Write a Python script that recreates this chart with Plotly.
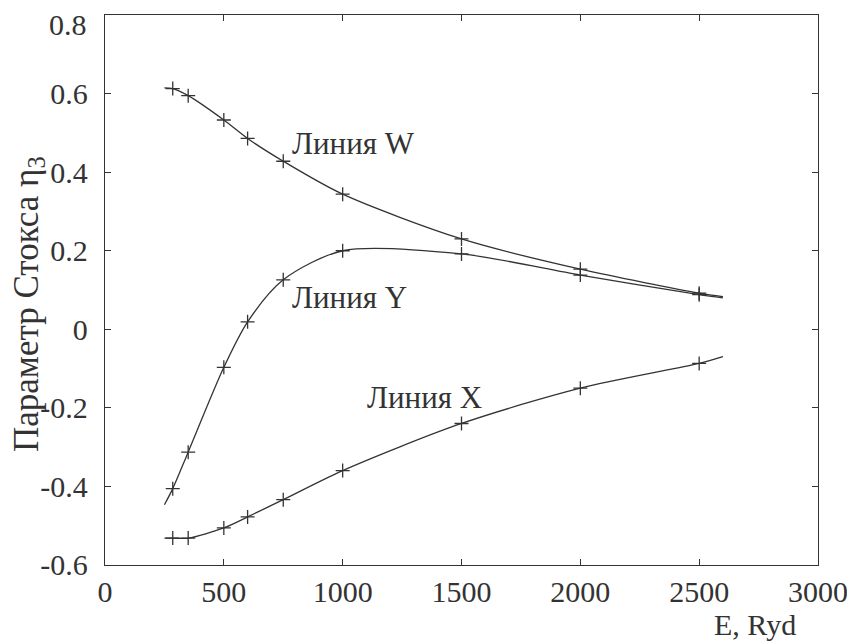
import plotly.graph_objects as go

# ---- data ----
# Curve end points (line only) and marker points
W_line_x = [250, 285, 350, 500, 600, 750, 1000, 1500, 2000, 2500, 2600]
W_line_y = [0.615, 0.613, 0.595, 0.533, 0.486, 0.428, 0.344, 0.230, 0.153, 0.092, 0.083]
Y_line_x = [250, 285, 350, 500, 600, 750, 1000, 1500, 2000, 2500, 2600]
Y_line_y = [-0.447, -0.406, -0.313, -0.097, 0.019, 0.126, 0.200, 0.192, 0.138, 0.088, 0.080]
X_line_x = [250, 285, 350, 500, 600, 750, 1000, 1500, 2000, 2500, 2600]
X_line_y = [-0.532, -0.532, -0.532, -0.506, -0.478, -0.434, -0.360, -0.240, -0.150, -0.087, -0.070]

series_names = ["Линия W", "Линия Y", "Линия X"]
x_ticks = [0, 500, 1000, 1500, 2000, 2500, 3000]
y_ticks = [-0.6, -0.4, -0.2, 0, 0.2, 0.4, 0.6, 0.8]
y_tick_text = ["-0.6", "-0.4", "-0.2", "0", "0.2", "0.4", "0.6", "0.8"]

INK = "#333333"
FONT = "Times New Roman, Liberation Serif, serif"

fig = go.Figure()
for xs, ys, name in [(W_line_x, W_line_y, series_names[0]),
                     (Y_line_x, Y_line_y, series_names[1]),
                     (X_line_x, X_line_y, series_names[2])]:
    fig.add_trace(go.Scatter(x=xs, y=ys, mode="lines", name=name,
                             line=dict(color=INK, width=1.3, shape="spline", smoothing=0.8),
                             showlegend=False, hoverinfo="skip"))
    fig.add_trace(go.Scatter(x=xs[1:-1], y=ys[1:-1], mode="markers", name=name,
                             marker=dict(symbol="cross-thin", size=10,
                                         line=dict(color=INK, width=1.3)),
                             showlegend=False))

axis_common = dict(showline=True, linecolor=INK, linewidth=1.4, mirror="allticks",
                   ticks="inside", ticklen=6, tickcolor=INK, tickwidth=1.2,
                   showgrid=False, zeroline=False, automargin=False,
                   tickfont=dict(family=FONT, size=30, color=INK))

# the top label (0.8) sits slightly below its tick in the reference, so it is drawn as an annotation
y_tick_shown = y_tick_text[:-1] + [""]

fig.update_xaxes(range=[0, 3000], tickvals=x_ticks, ticklabelstandoff=0, **axis_common)
fig.update_yaxes(range=[-0.6005, 0.8005], tickvals=y_ticks, ticktext=y_tick_shown,
                 ticklabelstandoff=10, **axis_common)

ann_font = dict(family=FONT, size=31, color=INK)
fig.update_layout(
    width=847, height=633,
    margin=dict(l=97, r=37, t=7, b=76),
    paper_bgcolor="white", plot_bgcolor="white",
    annotations=[
        dict(x=-0.022, y=0.983, xref="paper", yref="paper", text=y_tick_text[-1],
             showarrow=False, xanchor="right", yanchor="middle",
             font=dict(family=FONT, size=30, color=INK)),
        dict(x=778, y=0.474, xref="x", yref="y", text=series_names[0], showarrow=False,
             xanchor="left", yanchor="middle", font=ann_font),
        dict(x=778, y=0.082, xref="x", yref="y", text=series_names[1], showarrow=False,
             xanchor="left", yanchor="middle", font=ann_font),
        dict(x=1094, y=-0.175, xref="x", yref="y", text=series_names[2], showarrow=False,
             xanchor="left", yanchor="middle", font=ann_font),
        dict(x=-0.108, y=0.4745, xref="paper", yref="paper", text="Параметр Стокса η<sub>3</sub>",
             textangle=-90, showarrow=False, xanchor="center", yanchor="middle",
             font=dict(family=FONT, size=35, color=INK)),
        dict(x=0.972, y=-0.108, xref="paper", yref="paper", text="E, Ryd",
             showarrow=False, xanchor="right", yanchor="middle",
             font=dict(family=FONT, size=30, color=INK)),
    ],
)

fig.write_html("out.html")
